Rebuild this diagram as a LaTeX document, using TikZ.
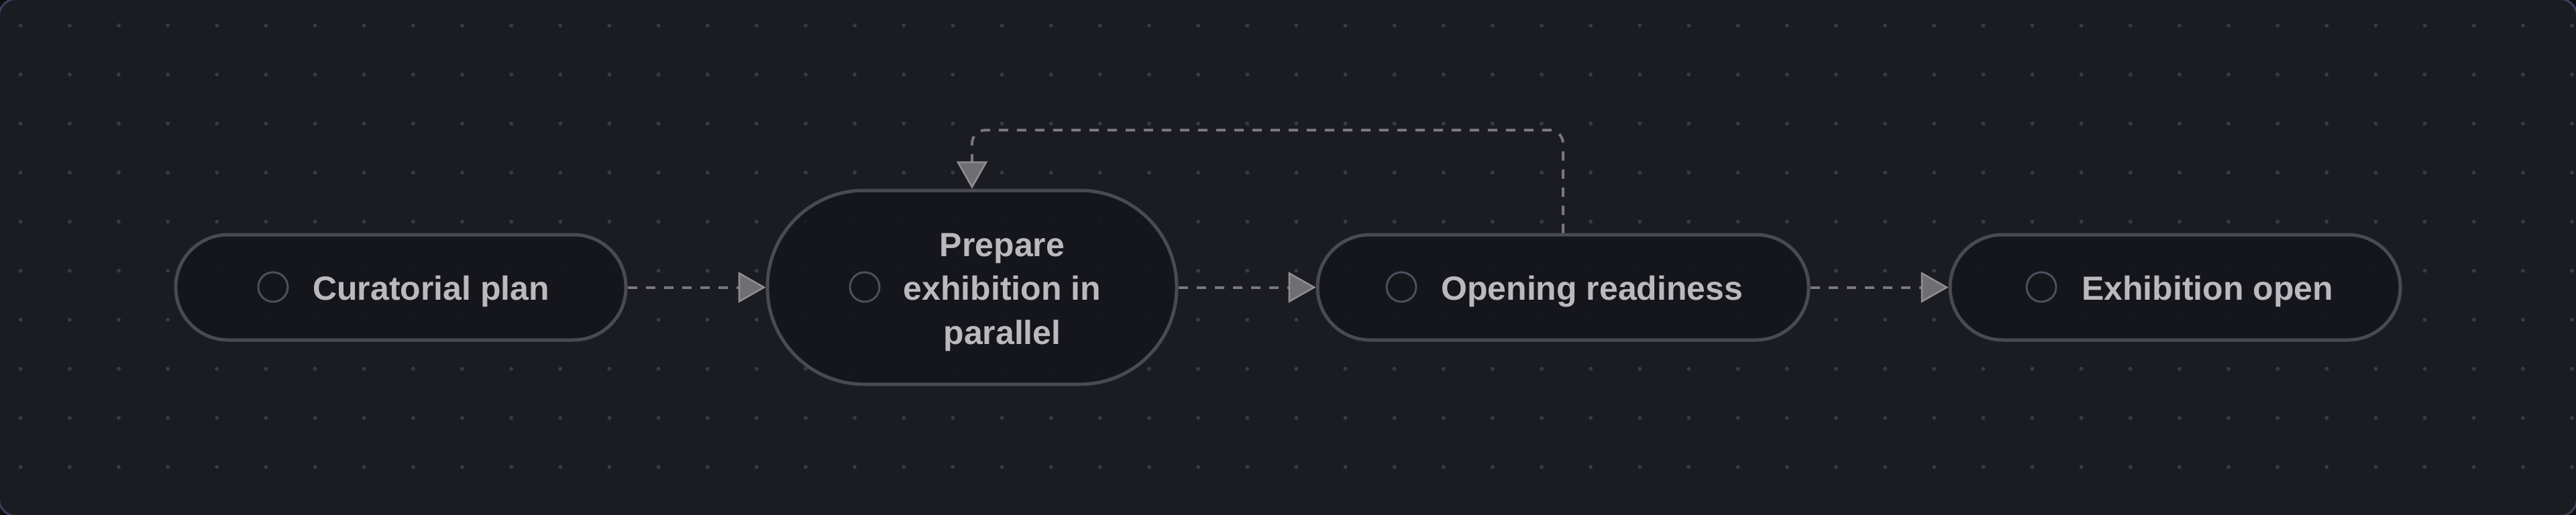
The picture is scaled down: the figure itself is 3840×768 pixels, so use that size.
\documentclass[tikz,border=0pt]{standalone}
\usepackage{fontspec}
\setmainfont{Liberation Sans}
\usetikzlibrary{arrows.meta}
\definecolor{bgouter}{HTML}{0E0E12}
\definecolor{bgmain}{HTML}{1B1C22}
\definecolor{framec}{HTML}{3A3E5C}
\definecolor{dotc}{HTML}{3A3B42}
\definecolor{nodefill}{HTML}{15161C}
\definecolor{nodeedge}{HTML}{4A4B50}
\definecolor{iconc}{HTML}{4D4F5E}
\definecolor{textc}{HTML}{B9B9BE}
\definecolor{edgec}{HTML}{78787D}
\definecolor{tipfill}{HTML}{6E6E73}
\definecolor{tipedge}{HTML}{8E8E93}
\tikzset{
  pill/.style={draw=nodeedge, line width=5pt, fill=nodefill, fill opacity=0.9, rectangle, inner sep=0pt},
  icon/.style={circle, draw=iconc, line width=3pt, minimum size=44pt, inner sep=0pt},
  lbl/.style={text=textc, font=\fontsize{50}{65.5}\selectfont\bfseries, inner sep=0pt},
  edge/.style={draw=edgec, line width=4pt, dash pattern=on 14pt off 13pt,
    -{Triangle[length=41pt,width=46pt,fill=tipfill,color=tipedge,line width=2.5pt]}},
}
\begin{document}
\begin{tikzpicture}[x=1pt,y=-1pt]
\useasboundingbox (0,0) rectangle (3840,768);
\fill[bgouter] (0,0) rectangle (3840,768);
\draw[fill=bgmain, draw=framec, line width=3pt, rounded corners=26pt] (-1.6,-1.6) rectangle (3841.6,769.6);
\foreach \i in {0,...,52} {
  \foreach \j in {0,...,9} {
    \fill[dotc] (30.7+73.14*\i, 38+73.14*\j) circle (3pt);
  }
}
% nodes
\node[pill, minimum width=671pt, minimum height=157pt, rounded corners=78pt] (n1) at (597.5,428.5) {};
\node[pill, minimum width=610pt, minimum height=289pt, rounded corners=144pt] (n2) at (1449,428.5) {};
\node[pill, minimum width=732pt, minimum height=157pt, rounded corners=78pt] (n3) at (2330,428.5) {};
\node[pill, minimum width=671pt, minimum height=157pt, rounded corners=78pt] (n4) at (3242.5,428.5) {};
% icons
\node[icon] (i1) at (407,428) {};
\node[icon] (i2) at (1289,428) {};
\node[icon] (i3) at (2089,428) {};
\node[icon] (i4) at (3043,428) {};
% labels
\node[lbl, anchor=base west] (t1) at (466,447) {Curatorial plan};
\node[lbl, anchor=base, align=center] (t2) at (1494,513) {Prepare\\exhibition in\\parallel};
\node[lbl, anchor=base west] (t3) at (2148,447) {Opening readiness};
\node[lbl, anchor=base west] (t4) at (3103,447) {Exhibition open};
% edges
\draw[edge] (n1.east) -- (n2.west);
\draw[edge] (n2.east) -- (n3.west);
\draw[edge] (n3.east) -- (n4.west);
\draw[edge, rounded corners=20pt] (n3.north) -- (n3.north |- 0,194) -- (n2.north |- 0,194) -- (n2.north);
\end{tikzpicture}
\end{document}
